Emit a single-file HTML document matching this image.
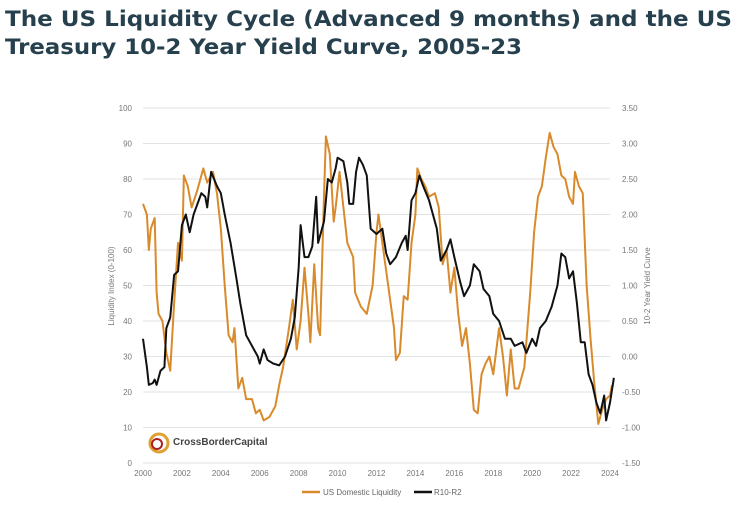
<!DOCTYPE html>
<html><head><meta charset="utf-8">
<style>
body{margin:0;width:740px;height:519px;background:#fff;overflow:hidden;font-family:"Liberation Sans",sans-serif;}
#title{position:absolute;left:5px;top:5px;font-family:"DejaVu Sans","Liberation Sans",sans-serif;font-size:21px;font-weight:bold;color:#27404e;line-height:28px;white-space:nowrap;}
#title span{display:inline-block;transform-origin:0 0;}
svg{position:absolute;left:0;top:0;}
</style></head><body>
<div id="title"><span id="t1">The US Liquidity Cycle (Advanced 9 months) and the US</span><br><span id="t2">Treasury 10-2 Year Yield Curve, 2005-23</span></div>
<svg id="chart" width="740" height="519"></svg>
<script>
const liqYears=[2000.0,2000.2,2000.3,2000.4,2000.6,2000.7,2000.8,2001.0,2001.2,2001.4,2001.6,2001.8,2002.0,2002.1,2002.3,2002.5,2002.8,2003.1,2003.3,2003.6,2003.8,2004.0,2004.2,2004.4,2004.6,2004.7,2004.9,2005.1,2005.3,2005.6,2005.8,2006.0,2006.2,2006.5,2006.8,2007.0,2007.2,2007.5,2007.7,2007.9,2008.1,2008.3,2008.5,2008.6,2008.8,2009.0,2009.1,2009.3,2009.4,2009.6,2009.8,2009.9,2010.1,2010.3,2010.5,2010.8,2010.9,2011.2,2011.5,2011.8,2012.0,2012.1,2012.3,2012.6,2012.9,2013.0,2013.2,2013.4,2013.6,2013.8,2014.0,2014.1,2014.3,2014.5,2014.7,2015.0,2015.2,2015.4,2015.6,2015.8,2016.0,2016.2,2016.4,2016.6,2016.8,2017.0,2017.2,2017.4,2017.6,2017.8,2018.0,2018.3,2018.5,2018.7,2018.9,2019.1,2019.3,2019.6,2019.9,2020.1,2020.3,2020.5,2020.7,2020.9,2021.1,2021.3,2021.5,2021.7,2021.9,2022.1,2022.2,2022.4,2022.6,2022.8,2023.0,2023.2,2023.4,2023.6,2023.8,2024.0,2024.1];
const liqValues=[73,70,60,66,69,48,42,40,31,26,45,62,57,81,78,72,77,83,79,82,76,66,50,36,34,38,21,24,18,18,14,15,12,13,16,22,27,38,46,32,40,55,42,34,56,38,36,75,92,87,68,72,82,72,62,58,48,44,42,50,65,70,62,50,38,29,31,47,46,62,70,83,80,78,75,76,72,56,60,48,55,42,33,38,28,15,14,25,28,30,25,38,30,19,32,21,21,27,48,65,75,78,86,93,89,87,81,80,75,73,82,78,76,50,35,22,11,15,18,19,22];
const curveYears=[2000.0,2000.2,2000.3,2000.5,2000.6,2000.7,2000.9,2001.1,2001.2,2001.4,2001.6,2001.8,2002.0,2002.2,2002.4,2002.6,2002.8,2003.0,2003.2,2003.3,2003.5,2003.8,2004.0,2004.2,2004.5,2004.8,2005.0,2005.3,2005.6,2005.9,2006.0,2006.2,2006.4,2006.7,2007.0,2007.3,2007.6,2007.8,2008.0,2008.1,2008.3,2008.5,2008.7,2008.9,2009.0,2009.3,2009.5,2009.7,2009.9,2010.0,2010.3,2010.5,2010.6,2010.8,2010.95,2011.1,2011.3,2011.5,2011.7,2012.0,2012.3,2012.5,2012.7,2013.0,2013.3,2013.5,2013.6,2013.8,2014.0,2014.2,2014.4,2014.7,2014.9,2015.1,2015.3,2015.6,2015.8,2016.0,2016.3,2016.5,2016.8,2017.0,2017.3,2017.5,2017.8,2018.0,2018.3,2018.6,2018.9,2019.1,2019.5,2019.7,2020.0,2020.2,2020.4,2020.7,2021.0,2021.3,2021.5,2021.7,2021.9,2022.1,2022.3,2022.5,2022.7,2022.9,2023.1,2023.3,2023.5,2023.7,2023.8,2024.0,2024.2];
const curveValues=[0.25,-0.15,-0.4,-0.375,-0.325,-0.4,-0.2,-0.15,0.4,0.55,1.15,1.2,1.85,2.0,1.75,2.0,2.15,2.3,2.25,2.1,2.6,2.4,2.3,2.0,1.6,1.1,0.75,0.3,0.15,0,-0.1,0.1,-0.05,-0.1,-0.125,0,0.25,0.55,1.25,1.85,1.4,1.4,1.55,2.25,1.6,1.9,2.5,2.45,2.65,2.8,2.75,2.45,2.15,2.15,2.6,2.8,2.7,2.55,1.8,1.725,1.8,1.45,1.3,1.4,1.6,1.7,1.5,2.2,2.3,2.55,2.4,2.2,2.0,1.8,1.35,1.5,1.65,1.4,1.05,0.85,1.0,1.3,1.2,0.95,0.85,0.6,0.5,0.25,0.25,0.15,0.2,0.05,0.25,0.15,0.4,0.5,0.7,1.0,1.45,1.4,1.1,1.2,0.75,0.2,0.2,-0.25,-0.4,-0.65,-0.8,-0.55,-0.9,-0.65,-0.3];
const leftTicks=[0,10,20,30,40,50,60,70,80,90,100];
const rightTicks=["-1.50","-1.00","-0.50","0.00","0.50","1.00","1.50","2.00","2.50","3.00","3.50"];
const xTicks=[2000,2002,2004,2006,2008,2010,2012,2014,2016,2018,2020,2022,2024];

['t1','t2'].forEach((id,i)=>{const s=document.getElementById(id);const w=s.getBoundingClientRect().width;const target=i===0?727:517;s.style.transform='scaleX('+(target/w)+')';});

const X0=143,X1=610,Y0=463,Y1=108;
const xs=y=>X0+(y-2000)/24*(X1-X0);
const yl=v=>Y0-v/100*(Y0-Y1);
const yr=v=>Y0-(v+1.5)/5*(Y0-Y1);
const svg=document.getElementById('chart');
const NS='http://www.w3.org/2000/svg';
function mk(t,a,txt){const e=document.createElementNS(NS,t);for(const k in a)e.setAttribute(k,a[k]);if(txt!==undefined)e.textContent=txt;svg.appendChild(e);return e;}

leftTicks.forEach((t,i)=>{
  const g=mk('line',{x1:X0,x2:X1,y1:yl(t),y2:yl(t),stroke:'#e2e2e2','stroke-width':1});
  
  
  const l=mk('text',{x:132,y:yl(t)+3,'text-anchor':'end','font-size':8,fill:'#777'},t);
  
  
  const r=mk('text',{x:622,y:yl(t)+3,'font-size':8,fill:'#777'},rightTicks[i]);
  
  
});
xTicks.forEach(t=>{
  const l=mk('text',{x:xs(t),y:476,'text-anchor':'middle','font-size':8,fill:'#777'},t);
  
  
});
const lt=mk('text',{x:0,y:0,'font-size':8,fill:'#777','text-anchor':'middle',transform:'translate(114,286) rotate(-90)'},'Liquidity Index (0-100)');


const rt=mk('text',{x:0,y:0,'font-size':8,fill:'#777','text-anchor':'middle',transform:'translate(650,286) rotate(-90)'},'10-2 Year Yield Curve');



const lp=mk('polyline',{points:liqYears.map((y,i)=>xs(y)+','+yl(liqValues[i])).join(' '),fill:'none',stroke:'#d98a2b','stroke-width':2,'stroke-linejoin':'round'});


const cp=mk('polyline',{points:curveYears.map((y,i)=>xs(y)+','+yr(curveValues[i])).join(' '),fill:'none',stroke:'#111','stroke-width':2,'stroke-linejoin':'round'});



const c1=mk('circle',{cx:159,cy:443,r:9,fill:'none',stroke:'#e0a030','stroke-width':3});


const c2=mk('circle',{cx:157,cy:444,r:5,fill:'none',stroke:'#b02020','stroke-width':2});


const lg=mk('text',{x:173,y:445,'font-size':10,'font-weight':'bold',fill:'#444'},'CrossBorderCapital');



const l1=mk('line',{x1:302,x2:320,y1:492,y2:492,stroke:'#d98a2b','stroke-width':2.5});


const t1=mk('text',{x:323,y:495,'font-size':8,fill:'#666'},'US Domestic Liquidity');


const l2=mk('line',{x1:414,x2:432,y1:492,y2:492,stroke:'#111','stroke-width':2.5});


const t2=mk('text',{x:434,y:495,'font-size':8,fill:'#666'},'R10-R2');


</script>
</body></html>
